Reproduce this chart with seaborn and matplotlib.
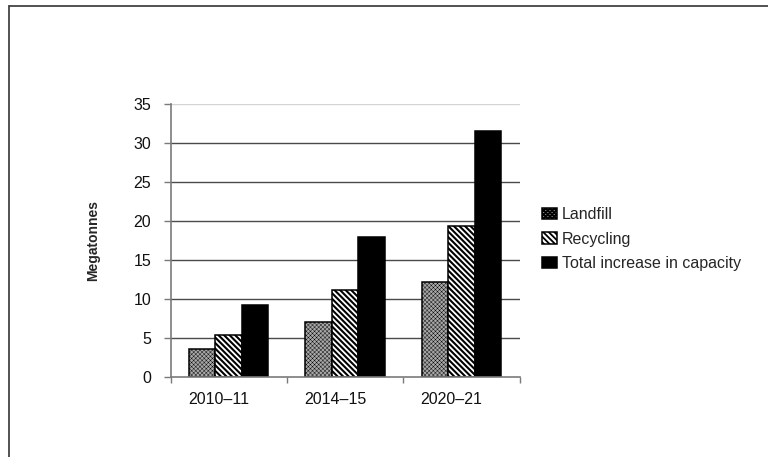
import matplotlib
matplotlib.use("Agg")
import matplotlib.pyplot as plt
import matplotlib.transforms as mtransforms
from matplotlib.lines import Line2D
import numpy as np
import pandas as pd
import seaborn as sns

# Data
periods = ["2010\u201311", "2014\u201315", "2020\u201321"]
series = ["Landfill", "Recycling", "Total increase in capacity"]
landfill = [3.5, 7.0, 12.2]
recycling = [5.4, 11.1, 19.4]
total = [9.2, 17.9, 31.6]
y_ticks = [0, 5, 10, 15, 20, 25, 30, 35]

df = pd.DataFrame({
    "period": periods * 3,
    "series": [series[0]] * 3 + [series[1]] * 3 + [series[2]] * 3,
    "value": landfill + recycling + total,
})

sns.set_theme(style="white")
plt.rcParams["font.family"] = ["Liberation Sans", "DejaVu Sans"]
plt.rcParams["hatch.linewidth"] = 1.3

W, H = 768, 457
fig = plt.figure(figsize=(W / 100, H / 100), dpi=100)
x0, x1 = 170.5, 519.5
y0, y1 = 376.7, 104.4
ax = fig.add_axes([x0 / W, 1 - y0 / H, (x1 - x0) / W, (y0 - y1) / H])

palette = {series[0]: "#a8a8a8", series[1]: "#ffffff", series[2]: "#000000"}
sns.barplot(data=df, x="period", y="value", hue="series", order=periods,
            hue_order=series, palette=palette, width=0.68, saturation=1,
            edgecolor="black", linewidth=1.1, legend=False, ax=ax)

hatches = ["xxxxxxxx", "\\\\\\\\\\\\", ""]
hatch_lw = [0.3, 1.5, 1.0]
for cont, h, hl in zip(ax.containers, hatches, hatch_lw):
    for p in cont.patches:
        p.set_hatch(h)
        if hasattr(p, "set_hatch_linewidth"):
            p.set_hatch_linewidth(hl)

ax.set_ylim(0, 35)
ax.set_xlim(-0.5, 2.5)
ax.set_yticks(y_ticks)
ax.set_yticklabels([str(v) for v in y_ticks])

# Horizontal gridlines
for v in y_ticks[1:]:
    col = "#d4d4d4" if v == 35 else "#4a4a4a"
    ax.axhline(v, color=col, lw=1.0, zorder=0)

for s in ["top", "right"]:
    ax.spines[s].set_visible(False)
for s in ["left", "bottom"]:
    ax.spines[s].set_color("#7a7a7a")
    ax.spines[s].set_linewidth(1.2)

fs = 11.5
ax.tick_params(axis="y", which="major", left=True, length=5, width=1,
               color="#7a7a7a", pad=9, labelsize=fs, labelcolor="#111111")
ax.set_xticks([0, 1, 2])
ax.set_xticks([-0.5, 0.5, 1.5, 2.5], minor=True)
ax.tick_params(axis="x", which="major", bottom=False, length=0, pad=11,
               labelsize=fs, labelcolor="#111111")
ax.tick_params(axis="x", which="minor", bottom=True, length=4, width=1,
               color="#7a7a7a")
shift = mtransforms.ScaledTranslation(-10 / 100, 0, fig.dpi_scale_trans)
for lab in ax.get_xticklabels():
    lab.set_transform(lab.get_transform() + shift)

ax.set_xlabel("")
ax.set_ylabel("Megatonnes", fontsize=10, fontweight="bold", labelpad=24)

handles = [cont.patches[0] for cont in ax.containers]
leg = ax.legend(handles, series, loc="upper left",
                bbox_to_anchor=(542 / W, 1 - 207 / H),
                bbox_transform=fig.transFigure, frameon=False,
                fontsize=fs, handlelength=0.95, handleheight=0.75,
                handletextpad=0.3, labelspacing=0.6, borderaxespad=0,
                borderpad=0)

# Outer frame (top and left edges)
fig.add_artist(Line2D([8.5 / W, 8.5 / W], [0, 1 - 6 / H], transform=fig.transFigure,
                      color="#444444", lw=1.3))
fig.add_artist(Line2D([8.5 / W, 1], [1 - 6 / H, 1 - 6 / H], transform=fig.transFigure,
                      color="#444444", lw=1.3))

fig.savefig("out.png", dpi=100, facecolor="white")
